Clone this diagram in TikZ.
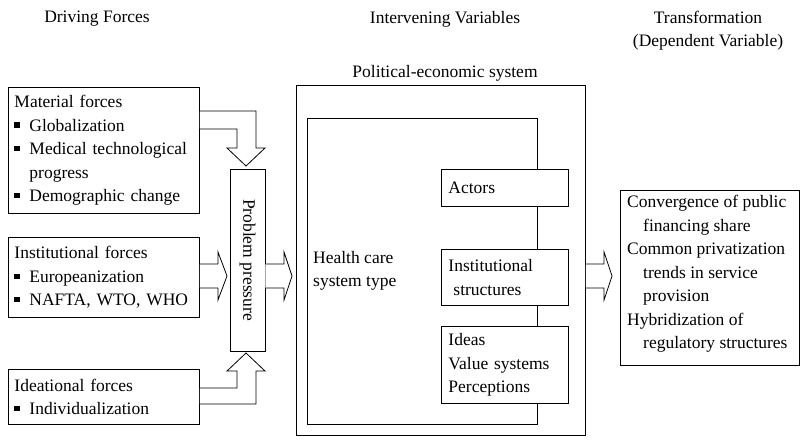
\documentclass[tikz,border=0pt]{standalone}
\usepackage{fontspec}
\setmainfont{Liberation Serif}
\usetikzlibrary{calc}
\newcommand\sqb{\makebox[15pt][l]{\rule[0.2em]{0.3em}{0.3em}}}
\begin{document}
\begin{tikzpicture}[x=1pt,y=-1pt,
  font=\fontsize{17.5}{23.5}\selectfont,
  box/.style={draw, line width=0.9pt, fill=white, inner sep=0pt},
  tbox/.style={box, align=left, inner xsep=6pt},
  blk/.style={draw, line width=0.8pt, line join=miter, fill=white},
  txt/.style={inner sep=0pt, align=left},
  head/.style={inner sep=0pt, align=center}]
\useasboundingbox (0,0) rectangle (800,444);

% headers
\node[head] (h1) at (97,19) {Driving Forces};
\node[head] (h2) at (445,19) {Intervening Variables};
\node[head] (h3) at (708,30.5) {Transformation\\(Dependent Variable)};

% driving forces
\node[tbox, anchor=north west, minimum width=191, minimum height=126, text width=179] (mat) at (8,87)
  {Material forces\\ \sqb Globalization\\ \sqb Medical technological\\ \hspace*{15pt}progress\\ \sqb Demographic change};
\node[tbox, anchor=north west, minimum width=191, minimum height=80, text width=179] (inst) at (8,237)
  {Institutional forces\\ \sqb Europeanization\\ \sqb NAFTA, WTO, WHO};
\node[tbox, anchor=north west, minimum width=191, minimum height=55, text width=179] (idea) at (8,369)
  {Ideational forces\\ \sqb Individualization};

% problem pressure
\node[box, rotate=-90, minimum width=182, minimum height=35] (pp) at (247.5,260) {Problem pressure};

% political-economic system
\node[head] (poltitle) at (445,73) {Political-economic system};
\node[box, fill=none, anchor=north west, minimum width=289, minimum height=350] (pol) at (296,85) {};
\node[box, fill=none, anchor=north west, minimum width=230, minimum height=306] (hc) at (307,118) {};
\node[txt, anchor=west] (hctext) at (313,271) {Health care\\system type};
\node[tbox, anchor=north west, inner xsep=7pt, minimum width=127, minimum height=37, text width=113] (act) at (441,169) {Actors};
\node[tbox, anchor=north west, inner xsep=7pt, minimum width=127, minimum height=56, text width=113] (ins) at (441,249) {Institutional\\\hspace*{5pt}structures};
\node[tbox, anchor=north west, inner xsep=7pt, minimum width=127, minimum height=77, text width=113] (ide) at (441,326) {Ideas\\Value systems\\Perceptions};

% outcome
\node[box, anchor=north west, minimum width=179, minimum height=175] (out) at (620,190) {};
\node[txt, anchor=north west] (outtext) at (627,195)
  {Convergence of public\\\hspace*{16pt}financing share\\Common privatization\\\hspace*{16pt}trends in service\\\hspace*{16pt}provision\\Hybridization of\\\hspace*{16pt}regulatory structures};

% block arrows
\draw[blk] (mat.east |- 0,111) -- (256,111) -- (256,148) -- (265,148) -- (246,166) -- (227,148) -- (237,148) -- (237,129) -- (mat.east |- 0,129);
\draw[blk] (idea.east |- 0,404) -- (256,404) -- (256,371) -- (265,371) -- (246,353) -- (227,371) -- (237,371) -- (237,388) -- (idea.east |- 0,388);
\draw[blk] (inst.east |- 0,264) -- (218,264) -- (218,252) -- (227,276) -- (218,300) -- (218,288) -- (inst.east |- 0,288);
\draw[blk] (pp.north |- 0,264) -- (284,264) -- (284,252) -- (292,276) -- (284,300) -- (284,288) -- (pp.north |- 0,288);
\draw[blk] (pol.east |- 0,264) -- (604,264) -- (604,252) -- (612,276) -- (604,300) -- (604,288) -- (pol.east |- 0,288);
\end{tikzpicture}
\end{document}
